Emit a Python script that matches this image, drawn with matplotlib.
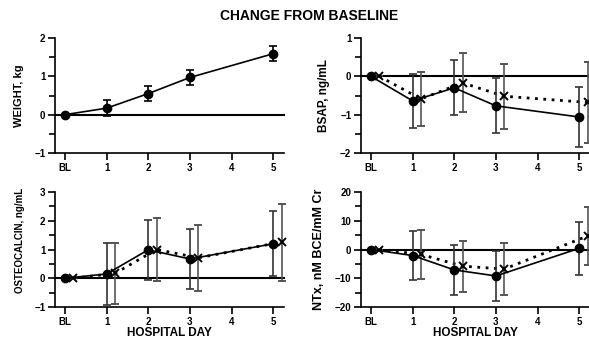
import matplotlib.pyplot as plt
from matplotlib.ticker import MultipleLocator

plt.rcParams['font.family'] = ['Liberation Sans', 'DejaVu Sans']
plt.rcParams['font.weight'] = 'bold'

days = [0, 1, 2, 3, 5]
day_labels = ['BL', '1', '2', '3', '4', '5']
shift = 0.2

weight = [0, 0.17, 0.55, 0.97, 1.59]
weight_err = [0, 0.2, 0.2, 0.2, 0.2]

bsap_a = [0, -0.64, -0.3, -0.77, -1.06]
bsap_a_err = [0, 0.71, 0.72, 0.72, 0.78]
bsap_b = [0, -0.59, -0.17, -0.52, -0.68]
bsap_b_err = [0, 0.71, 0.77, 0.85, 1.05]

osteo_a = [0, 0.15, 0.99, 0.67, 1.2]
osteo_a_err = [0, 1.07, 1.05, 1.04, 1.13]
osteo_b = [0, 0.17, 1.0, 0.71, 1.26]
osteo_b_err = [0, 1.07, 1.09, 1.14, 1.34]

ntx_a = [0, -2.1, -7.1, -9.2, 0.4]
ntx_a_err = [0, 8.4, 8.8, 8.6, 9.2]
ntx_b = [0, -1.7, -5.8, -6.8, 4.7]
ntx_b_err = [0, 8.4, 8.9, 8.9, 10.2]

fig = plt.figure(figsize=(5.89, 3.48), dpi=100)
fig.text(0.525, 0.955, 'CHANGE FROM BASELINE', ha='center', va='center',
         fontsize=10, fontweight='bold')

w, h = 229 / 589, 115 / 348
boxes = [(55 / 589, 1 - 153 / 348), (361 / 589, 1 - 153 / 348),
         (55 / 589, 1 - 307 / 348), (361 / 589, 1 - 307 / 348)]


def setup(ax, ylim, major, minor, ylabel, lsize=8, xlabel=False):
    ax.set_xlim(-0.24, 5.26)
    ax.set_ylim(*ylim)
    ax.spines['top'].set_visible(False)
    ax.spines['right'].set_visible(False)
    ax.spines['left'].set_linewidth(1.2)
    ax.spines['bottom'].set_linewidth(1.2)
    ax.axhline(0, color='black', lw=1.5, zorder=1)
    ax.set_xticks(range(6))
    ax.set_xticklabels(day_labels)
    ax.yaxis.set_major_locator(MultipleLocator(major))
    ax.yaxis.set_minor_locator(MultipleLocator(minor))
    ax.tick_params(axis='both', which='major', direction='out', length=5,
                   width=1.2, labelsize=7, pad=2)
    ax.tick_params(axis='y', which='minor', direction='out', length=4, width=1.2)
    for t in ax.get_xticklabels() + ax.get_yticklabels():
        t.set_fontweight('bold')
    ax.set_ylabel(ylabel, fontsize=lsize, fontweight='bold', labelpad=7)
    if xlabel:
        ax.set_xlabel('HOSPITAL DAY', fontsize=8.5, fontweight='bold', labelpad=0)


def two_series(ax, a, a_err, b, b_err):
    xb = [d + shift for d in days]
    ax.errorbar(xb, b, yerr=b_err, color='black', ecolor='#555555', lw=2,
                ls=(0, (1, 2)), marker='x', ms=6, mew=1.4, capsize=3,
                elinewidth=1.2, capthick=1.2, zorder=3)
    ax.errorbar(days, a, yerr=a_err, color='black', ecolor='#333333', lw=1.2,
                marker='o', ms=6, capsize=3, elinewidth=1.2, capthick=1.2,
                zorder=4)


ax1 = fig.add_axes([boxes[0][0], boxes[0][1], w, h])
setup(ax1, (-1, 2), 1, 0.5, 'WEIGHT, kg')
ax1.errorbar(days, weight, yerr=weight_err, color='black', lw=1.2, marker='o',
             ms=6, capsize=3, elinewidth=1.2, capthick=1.2, zorder=4)

ax2 = fig.add_axes([boxes[1][0], boxes[1][1], w, h])
setup(ax2, (-2, 1), 1, 0.5, 'BSAP, ng/mL', lsize=8.5)
two_series(ax2, bsap_a, bsap_a_err, bsap_b, bsap_b_err)

ax3 = fig.add_axes([boxes[2][0], boxes[2][1], w, h])
setup(ax3, (-1, 3), 1, 0.5, 'OSTEOCALCIN, ng/mL', lsize=7, xlabel=True)
ax3.yaxis.set_label_coords(-0.13, 0.58)
two_series(ax3, osteo_a, osteo_a_err, osteo_b, osteo_b_err)

ax4 = fig.add_axes([boxes[3][0], boxes[3][1], w, h])
setup(ax4, (-20, 20), 10, 5, 'NTx, nM BCE/mM Cr', lsize=9, xlabel=True)
two_series(ax4, ntx_a, ntx_a_err, ntx_b, ntx_b_err)

for ax in (ax1, ax2, ax3, ax4):
    for art in ax.get_children():
        if hasattr(art, 'set_clip_on'):
            art.set_clip_on(False)

fig.savefig('out.png', dpi=100)
